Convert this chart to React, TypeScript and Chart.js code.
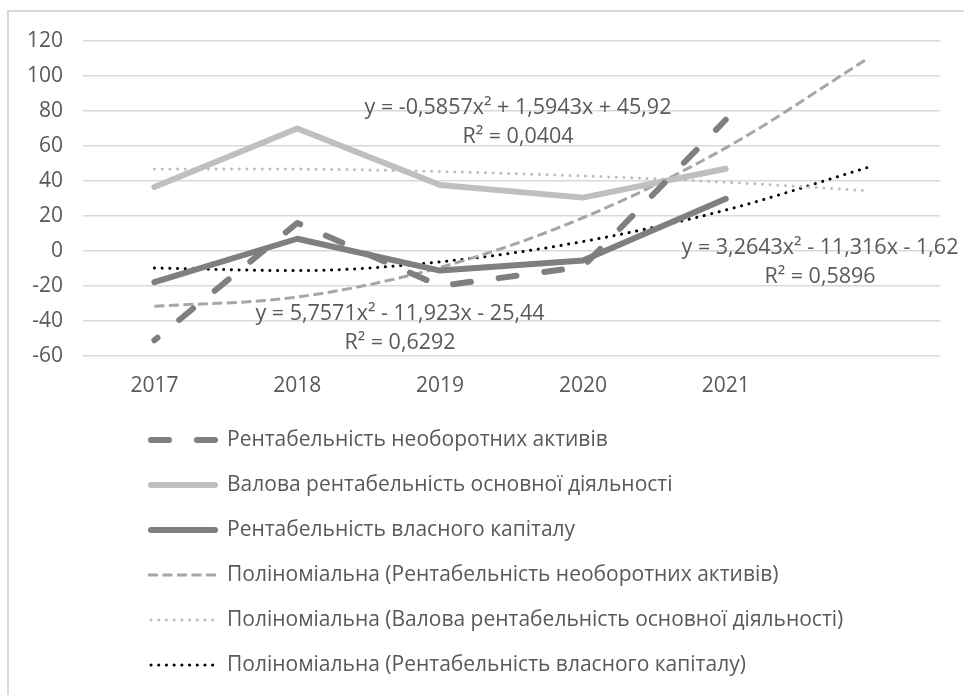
import React, { useEffect, useRef } from 'react';
import { Chart, registerables } from 'chart.js';

Chart.register(...registerables);

// ---- data ----
const categories = ['2017', '2018', '2019', '2020', '2021', ''];

const neobAktyvy = [-51, 16, -20, -9, 75, null];
const valovaRent = [36.6, 70, 37.7, 30.5, 47, null];
const vlasnyiKapital = [-17.8, 7, -11.2, -5.4, 29.8, null];

const trendNeob = [-31.6, -26.3, -9.4, 19.0, 58.9, 110.3];
const trendValova = [46.9, 46.8, 45.4, 42.9, 39.3, 34.4];
const trendVlasnyi = [-9.7, -11.2, -6.2, 5.4, 23.4, 47.9];

const yMin = -60;
const yMax = 120;
const yStep = 20;

const seriesLabels = [
  'Рентабельність необоротних активів',
  'Валова рентабельність основної діяльності',
  'Рентабельність власного капіталу',
  'Поліноміальна (Рентабельність необоротних активів)',
  'Поліноміальна (Валова рентабельність основної діяльності)',
  'Поліноміальна (Рентабельність власного капіталу)',
];

const equationNeob = ['y = 5,7571x² - 11,923x - 25,44', 'R² = 0,6292'];
const equationValova = ['y = -0,5857x² + 1,5943x + 45,92', 'R² = 0,0404'];
const equationVlasnyi = ['y = 3,2643x² - 11,316x - 1,62', 'R² = 0,5896'];

// ---- styling ----
const FONT = '"Open Sans", "Noto Sans", sans-serif';
const TEXT_COLOR = '#595959';
const GRID_COLOR = '#d9d9d9';

const framePlugin = {
  id: 'frame',
  beforeDraw(chart: any) {
    const { ctx, width, height } = chart;
    ctx.save();
    ctx.fillStyle = '#ffffff';
    ctx.fillRect(0, 0, width, height);
    ctx.strokeStyle = GRID_COLOR;
    ctx.lineWidth = 2;
    ctx.beginPath();
    ctx.moveTo(8, height);
    ctx.lineTo(8, 11);
    ctx.lineTo(width, 11);
    ctx.stroke();
    ctx.restore();
  },
};

const equationPlugin = {
  id: 'equations',
  afterDatasetsDraw(chart: any) {
    const { ctx } = chart;
    const items = [
      { lines: equationValova, x: 518, y: 108 },
      { lines: equationNeob, x: 400, y: 314 },
      { lines: equationVlasnyi, x: 820, y: 248 },
    ];
    ctx.save();
    ctx.font = `21.5px ${FONT}`;
    ctx.fillStyle = TEXT_COLOR;
    ctx.textAlign = 'center';
    ctx.textBaseline = 'middle';
    items.forEach((it) => {
      it.lines.forEach((t, i) => ctx.fillText(t, it.x, it.y + i * 29));
    });
    ctx.restore();
  },
};

const legendPlugin = {
  id: 'customLegend',
  afterDraw(chart: any) {
    const { ctx } = chart;
    const x0 = 151;
    const x1 = 215;
    const textX = 227;
    const top = 440;
    const rowH = 45;
    ctx.save();
    chart.data.datasets.forEach((ds: any, i: number) => {
      const y = top + i * rowH;
      ctx.beginPath();
      ctx.strokeStyle = ds.borderColor;
      ctx.lineWidth = ds.borderWidth;
      ctx.lineCap = ds.borderCapStyle || 'butt';
      ctx.setLineDash(ds.borderDash || []);
      const sx = ds.borderCapStyle === 'round' ? x0 : x0 - 3;
      const ex = ds.borderCapStyle === 'round' ? x1 : x1 + 3;
      ctx.moveTo(sx, y);
      ctx.lineTo(ex, y);
      ctx.stroke();
      ctx.setLineDash([]);
      ctx.font = `21px ${FONT}`;
      ctx.fillStyle = TEXT_COLOR;
      ctx.textAlign = 'left';
      ctx.textBaseline = 'middle';
      ctx.fillText(ds.label, textX, y);
    });
    ctx.restore();
  },
};

export default function App() {
  const ref = useRef<HTMLCanvasElement>(null);

  useEffect(() => {
    const canvas = ref.current;
    if (!canvas) return;
    const common = { pointRadius: 0, pointHoverRadius: 0, fill: false, borderJoinStyle: 'round' };
    const chart = new Chart(canvas, {
      type: 'line',
      data: {
        labels: categories,
        datasets: [
          {
            ...common,
            label: seriesLabels[0],
            data: neobAktyvy,
            borderColor: '#7f7f7f',
            borderWidth: 6,
            borderDash: [18, 28],
            borderDashOffset: 14,
            borderCapStyle: 'round',
            tension: 0,
          },
          {
            ...common,
            label: seriesLabels[1],
            data: valovaRent,
            borderColor: '#bfbfbf',
            borderWidth: 6,
            borderCapStyle: 'round',
            tension: 0,
          },
          {
            ...common,
            label: seriesLabels[2],
            data: vlasnyiKapital,
            borderColor: '#7f7f7f',
            borderWidth: 6,
            borderCapStyle: 'round',
            tension: 0,
          },
          {
            ...common,
            label: seriesLabels[3],
            data: trendNeob,
            borderColor: '#a6a6a6',
            borderWidth: 3,
            borderDash: [10, 4.5],
            borderCapStyle: 'butt',
            cubicInterpolationMode: 'monotone',
          },
          {
            ...common,
            label: seriesLabels[4],
            data: trendValova,
            borderColor: '#bfbfbf',
            borderWidth: 3,
            borderDash: [0.1, 7.6],
            borderCapStyle: 'round',
            cubicInterpolationMode: 'monotone',
          },
          {
            ...common,
            label: seriesLabels[5],
            data: trendVlasnyi,
            borderColor: '#000000',
            borderWidth: 3,
            borderDash: [0.1, 7.6],
            borderCapStyle: 'round',
            cubicInterpolationMode: 'monotone',
          },
        ] as any,
      },
      options: {
        responsive: false,
        animation: false,
        events: [],
        layout: { padding: { left: 0, right: 24, top: 41, bottom: 289 } },
        plugins: {
          legend: { display: false },
          tooltip: { enabled: false },
          title: { display: false },
        },
        scales: {
          x: {
            offset: true,
            grid: { display: false, drawTicks: false },
            border: { display: false },
            ticks: {
              color: TEXT_COLOR,
              font: { family: FONT, size: 21 },
              padding: 17,
              maxRotation: 0,
              autoSkip: false,
            },
            afterFit: (s: any) => {
              s.height = 50;
            },
          },
          y: {
            min: yMin,
            max: yMax,
            grid: { color: GRID_COLOR, lineWidth: 1.5, drawTicks: false },
            border: { display: false },
            ticks: {
              stepSize: yStep,
              color: TEXT_COLOR,
              font: { family: FONT, size: 21 },
              padding: 20,
            },
            afterFit: (s: any) => {
              s.width = 83;
            },
          },
        },
      },
      plugins: [framePlugin, equationPlugin, legendPlugin],
    } as any);
    return () => chart.destroy();
  }, []);

  return (
    <div
      style={{
        position: 'fixed',
        left: 0,
        top: 0,
        width: 964,
        height: 695,
        overflow: 'hidden',
        background: '#fff',
      }}
    >
      <canvas ref={ref} width={964} height={695} style={{ display: 'block', width: 964, height: 695 }} />
    </div>
  );
}
